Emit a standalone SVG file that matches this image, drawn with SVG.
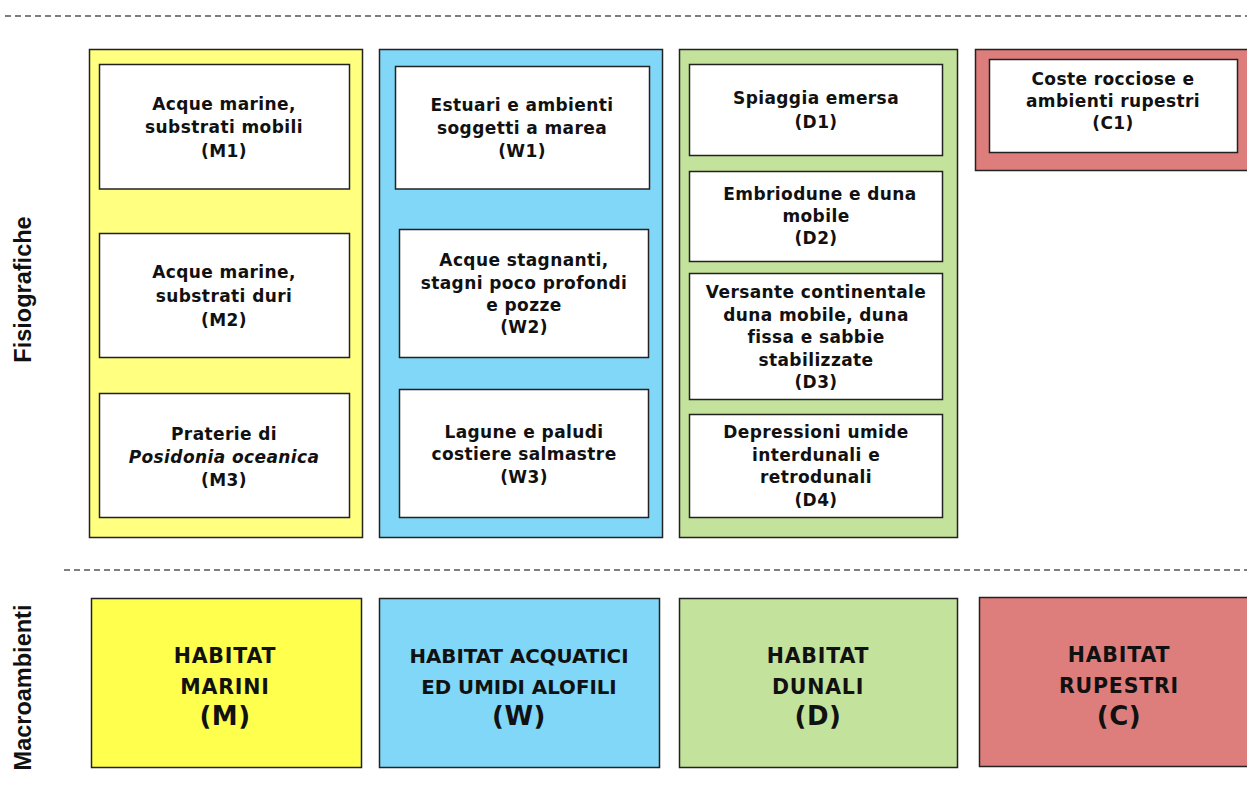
<svg xmlns="http://www.w3.org/2000/svg" width="1247" height="787" viewBox="0 0 1247 787">
<style>
.bg{stroke:#222;stroke-width:1.5}
.box{fill:#fff;stroke:#222;stroke-width:1.5}
.t{font-family:"DejaVu Sans",Verdana,sans-serif;font-weight:bold;font-size:17px;letter-spacing:0.4px;fill:#111;text-anchor:middle}
.h{font-family:"DejaVu Sans",Verdana,sans-serif;font-weight:bold;font-size:20.5px;letter-spacing:0.8px;fill:#111;text-anchor:middle}
.hn{font-size:19.8px;letter-spacing:0}
.hl{font-size:26px;letter-spacing:0.5px}
.side{font-family:"Liberation Sans",Arial,sans-serif;font-weight:bold;font-size:23.5px;fill:#111;text-anchor:middle}
.dash{stroke:#555;stroke-width:1.5;stroke-dasharray:6 4;fill:none}
</style>
<rect width="1247" height="787" fill="#fff"/>
<g id="separators">
<line class="dash" x1="5" y1="16" x2="1247" y2="16"/>
<line class="dash" x1="64" y1="570" x2="1247" y2="570"/>
</g>
<g id="labels">
<text class="side" transform="translate(31,289.5) rotate(-90)">Fisiografiche</text>
<text class="side" transform="translate(31,687.5) rotate(-90)">Macroambienti</text>
</g>
<g id="col-M">
<rect class="bg" x="89.5" y="49.5" width="273" height="488" fill="#FFFF80"/>
</g>
<g id="col-W">
<rect class="bg" x="379.5" y="49.5" width="283" height="488" fill="#80D7F7"/>
</g>
<g id="col-D">
<rect class="bg" x="679.5" y="49.5" width="278" height="488" fill="#C3E29B"/>
</g>
<g id="col-C">
<rect class="bg" x="975.5" y="49.5" width="275" height="121" fill="#DE7E7C"/>
</g>
<g id="M1">
<rect class="box" x="99.5" y="64.5" width="250" height="124.5"/>
<text class="t" x="224" y="110">Acque marine,</text>
<text class="t" x="224" y="133">substrati mobili</text>
<text class="t" x="224" y="157">(M1)</text>
</g>
<g id="M2">
<rect class="box" x="99.5" y="233.5" width="250" height="124"/>
<text class="t" x="224" y="278">Acque marine,</text>
<text class="t" x="224" y="302">substrati duri</text>
<text class="t" x="224" y="326">(M2)</text>
</g>
<g id="M3">
<rect class="box" x="99.5" y="393.5" width="250" height="124"/>
<text class="t" x="224" y="440">Praterie di</text>
<text class="t" x="224" y="463" font-style="italic">Posidonia oceanica</text>
<text class="t" x="224" y="486">(M3)</text>
</g>
<g id="W1">
<rect class="box" x="395.5" y="66.5" width="254" height="122.5"/>
<text class="t" x="522" y="111">Estuari e ambienti</text>
<text class="t" x="522" y="134">soggetti a marea</text>
<text class="t" x="522" y="157">(W1)</text>
</g>
<g id="W2">
<rect class="box" x="399.5" y="229.5" width="249" height="128"/>
<text class="t" x="524" y="266">Acque stagnanti,</text>
<text class="t" x="524" y="289">stagni poco profondi</text>
<text class="t" x="524" y="311">e pozze</text>
<text class="t" x="524" y="333">(W2)</text>
</g>
<g id="W3">
<rect class="box" x="399.5" y="389.5" width="249" height="128"/>
<text class="t" x="524" y="438">Lagune e paludi</text>
<text class="t" x="524" y="460">costiere salmastre</text>
<text class="t" x="524" y="483">(W3)</text>
</g>
<g id="D1">
<rect class="box" x="689.5" y="64.5" width="253" height="91"/>
<text class="t" x="816" y="104">Spiaggia emersa</text>
<text class="t" x="816" y="128">(D1)</text>
</g>
<g id="D2">
<rect class="box" x="689.5" y="171.5" width="253" height="90"/>
<text class="t" x="820" y="200">Embriodune e duna</text>
<text class="t" x="816" y="222">mobile</text>
<text class="t" x="816" y="244">(D2)</text>
</g>
<g id="D3">
<rect class="box" x="689.5" y="273.5" width="253" height="126"/>
<text class="t" x="816" y="298">Versante continentale</text>
<text class="t" x="816" y="321">duna mobile, duna</text>
<text class="t" x="816" y="343">fissa e sabbie</text>
<text class="t" x="816" y="366">stabilizzate</text>
<text class="t" x="816" y="388">(D3)</text>
</g>
<g id="D4">
<rect class="box" x="689.5" y="414.5" width="253" height="103"/>
<text class="t" x="816" y="438">Depressioni umide</text>
<text class="t" x="816" y="461">interdunali e</text>
<text class="t" x="816" y="483">retrodunali</text>
<text class="t" x="816" y="506">(D4)</text>
</g>
<g id="C1">
<rect class="box" x="989.5" y="59.5" width="248" height="93"/>
<text class="t" x="1113" y="85">Coste rocciose e</text>
<text class="t" x="1113" y="107">ambienti rupestri</text>
<text class="t" x="1113" y="129">(C1)</text>
</g>
<g id="HM">
<rect class="bg" x="91.5" y="598.5" width="270" height="169" fill="#FFFF4D"/>
<text class="h" x="225" y="663">HABITAT</text>
<text class="h" x="225" y="694">MARINI</text>
<text class="h hl" x="225" y="725">(M)</text>
</g>
<g id="HW">
<rect class="bg" x="379.5" y="598.5" width="280" height="169" fill="#80D7F7"/>
<text class="h hn" x="519" y="663">HABITAT ACQUATICI</text>
<text class="h hn" x="519" y="694">ED UMIDI ALOFILI</text>
<text class="h hl" x="519" y="725">(W)</text>
</g>
<g id="HD">
<rect class="bg" x="679.5" y="598.5" width="278" height="169" fill="#C3E29B"/>
<text class="h" x="818" y="663">HABITAT</text>
<text class="h" x="818" y="694">DUNALI</text>
<text class="h hl" x="818" y="725">(D)</text>
</g>
<g id="HC">
<rect class="bg" x="979.5" y="597.5" width="275" height="169" fill="#DE7E7C"/>
<text class="h" x="1119" y="662">HABITAT</text>
<text class="h" x="1119" y="693">RUPESTRI</text>
<text class="h hl" x="1119" y="725">(C)</text>
</g>
</svg>
